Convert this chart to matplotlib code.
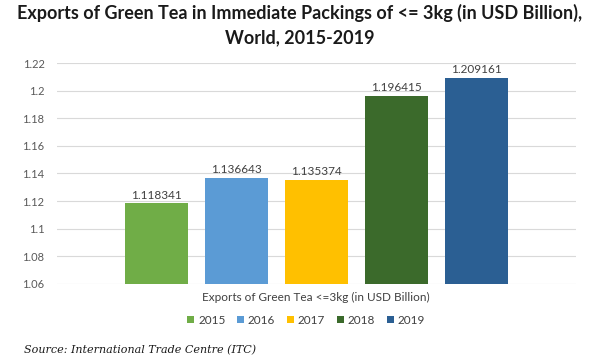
import matplotlib.pyplot as plt

years = ['2015', '2016', '2017', '2018', '2019']
values = [1.118341, 1.136643, 1.135374, 1.196415, 1.209161]
colors = ['#70AD47', '#5B9BD5', '#FFC000', '#3B6A2B', '#2B5F93']
yticks = [1.06, 1.08, 1.1, 1.12, 1.14, 1.16, 1.18, 1.2, 1.22]
ytick_labels = ['1.06', '1.08', '1.1', '1.12', '1.14', '1.16', '1.18', '1.2', '1.22']

plt.rcParams['font.family'] = ['Lato', 'DejaVu Sans']

fig = plt.figure(figsize=(6, 3.59), dpi=100)
ax = fig.add_axes([0.095, 0.209, 0.865, 0.6155])

for i, (yr, v, c) in enumerate(zip(years, values, colors)):
    ax.bar(i, v - 1.06, bottom=1.06, width=0.79, color=c, label=yr, zorder=3)
    ax.text(i, v + 0.002, f'{v:.6f}', ha='center', va='bottom', fontsize=8.5, color='#404040')

ax.set_xlim(-1.244, 5.244)
ax.set_ylim(1.06, 1.22)
ax.set_yticks(yticks)
ax.set_yticklabels(ytick_labels)
ax.set_xticks([])
ax.grid(axis='y', color='#D9D9D9', linewidth=0.8, zorder=0)
ax.tick_params(axis='y', length=0, labelsize=8, labelcolor='#595959', pad=9)
for s in ax.spines.values():
    s.set_visible(False)

# title
fig.text(0.5, 0.965, 'Exports of Green Tea in Immediate Packings of <= 3kg (in USD Billion),',
         ha='center', va='center', fontsize=13, fontweight='bold', color='#1a1a1a')
fig.text(0.5, 0.895, 'World, 2015-2019', ha='center', va='center', fontsize=13,
         fontweight='bold', color='#1a1a1a')

fig.text(0.527, 0.17, 'Exports of Green Tea <=3kg (in USD Billion)', ha='center', va='center',
         fontsize=8.5, color='#404040')
fig.legend(loc='center', bbox_to_anchor=(0.51, 0.108), ncol=5, frameon=False, fontsize=8.5,
           handlelength=0.6, handleheight=0.6, handletextpad=0.3, columnspacing=1.0,
           labelcolor='#404040')
fig.text(0.04, 0.025, 'Source: International Trade Centre (ITC)', ha='left', va='center',
         fontsize=8, style='italic', family='DejaVu Serif', color='#1a1a1a')

fig.savefig('out.png', dpi=100)
